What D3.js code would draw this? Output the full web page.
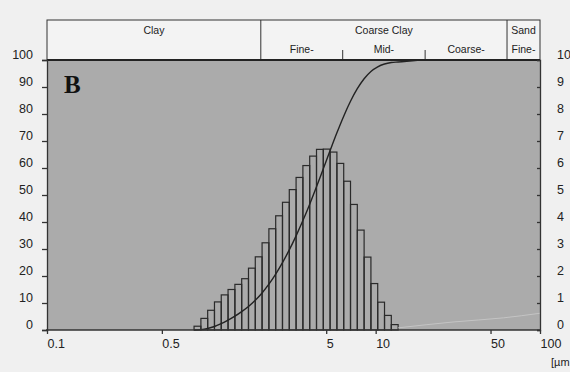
<!DOCTYPE html>
<html>
<head>
<meta charset="utf-8">
<script src="https://cdn.jsdelivr.net/npm/d3@7"></script>
<style>
  body { margin: 0; background: #f0f0f0; }
  svg { display: block; }
</style>
</head>
<body>
<svg></svg>
<script>
// bin edges (µm) and percent per bin
const binEdges = [0.785, 0.864, 0.950, 1.045, 1.149, 1.264, 1.391, 1.530, 1.683, 1.851,
  2.036, 2.240, 2.464, 2.710, 2.981, 3.279, 3.607, 3.968, 4.365, 4.801,
  5.281, 5.809, 6.390, 7.029, 7.732, 8.505, 9.356, 10.29, 11.32, 12.45, 13.70];
const binPercent = [0.14, 0.43, 0.73, 1.04, 1.30, 1.50, 1.69, 1.90, 2.29, 2.71,
  3.23, 3.75, 4.23, 4.73, 5.20, 5.65, 6.09, 6.44, 6.69, 6.70,
  6.59, 6.17, 5.51, 4.65, 3.70, 2.70, 1.72, 1.03, 0.54, 0.20];
// faint trailing line (right axis units)
const tailSize = [13.7, 30, 60, 100];
const tailValue = [0.08, 0.3, 0.45, 0.62];

const xTicks = [0.1, 0.5, 5, 10, 50, 100];
const leftTicks = [0, 10, 20, 30, 40, 50, 60, 70, 80, 90, 100];
const rightTicks = [0, 1, 2, 3, 4, 5, 6, 7, 8, 9, 10];

// size classes for the header band
const classBounds = [0.1, 2, 63, 100];
const classNames = ["Clay", "Coarse Clay", "Sand"];
const subBounds = [2, 6.3, 20, 63, 100];
const subNames = ["Fine-", "Mid-", "Coarse-", "Fine-"];

const svgWidth = 570, svgHeight = 372;
const plotLeft = 47, plotRight = 540, plotTop = 60, plotBottom = 330, headTop = 20;
const sans = "'Liberation Sans', Arial, sans-serif";

const svg = d3.select("svg").attr("width", svgWidth).attr("height", svgHeight);

const x = d3.scaleLog().domain([0.1, 100]).range([plotLeft, plotRight]);
const yL = d3.scaleLinear().domain([0, 100]).range([plotBottom, plotTop]);
const yR = d3.scaleLinear().domain([0, 10]).range([plotBottom, plotTop]);

// plot background
svg.append("rect")
    .attr("x", plotLeft).attr("y", plotTop)
    .attr("width", plotRight - plotLeft).attr("height", plotBottom - plotTop)
    .attr("fill", "#ababab");

// header box
svg.append("rect")
    .attr("x", plotLeft).attr("y", headTop)
    .attr("width", plotRight - plotLeft).attr("height", plotTop - headTop)
    .attr("fill", "#f3f3f3").attr("stroke", "#333").attr("stroke-width", 1);

classBounds.slice(1, -1).forEach(function(b) {
  svg.append("line")
      .attr("x1", x(b)).attr("x2", x(b))
      .attr("y1", headTop).attr("y2", plotTop)
      .attr("stroke", "#333");
});
[6.3, 20].forEach(function(b) {
  svg.append("line")
      .attr("x1", x(b)).attr("x2", x(b))
      .attr("y1", 50).attr("y2", plotTop)
      .attr("stroke", "#333");
});
classNames.forEach(function(n, i) {
  svg.append("text")
      .attr("x", (x(classBounds[i]) + x(classBounds[i + 1])) / 2)
      .attr("y", 34)
      .attr("text-anchor", "middle")
      .attr("font-family", sans)
      .attr("font-size", 10.5)
      .attr("fill", "#222")
      .text(n);
});
subNames.forEach(function(n, i) {
  svg.append("text")
      .attr("x", (x(subBounds[i]) + x(subBounds[i + 1])) / 2)
      .attr("y", 53)
      .attr("text-anchor", "middle")
      .attr("font-family", sans)
      .attr("font-size", 10.5)
      .attr("fill", "#222")
      .text(n);
});

// histogram bars
const bins = binPercent.map(function(v, i) {
  return { x0: binEdges[i], x1: binEdges[i + 1], v: v };
});
svg.append("g").selectAll("rect")
    .data(bins)
    .enter()
    .append("rect")
    .attr("x", d => x(d.x0))
    .attr("y", d => yR(d.v))
    .attr("width", d => x(d.x1) - x(d.x0))
    .attr("height", d => yR(0) - yR(d.v))
    .attr("fill", "none")
    .attr("stroke", "#2a2a2a")
    .attr("stroke-width", 1.2);

// faint tail
svg.append("path")
    .datum(tailSize.map((s, i) => [s, tailValue[i]]))
    .attr("fill", "none")
    .attr("stroke", "#c4c4c4")
    .attr("stroke-width", 1)
    .attr("d", d3.line().x(d => x(d[0])).y(d => yR(d[1])).curve(d3.curveMonotoneX));

// cumulative curve
let run = 0;
const cum = [[binEdges[0], 0]];
binPercent.forEach(function(v, i) {
  run += v;
  cum.push([binEdges[i + 1], Math.min(100, run)]);
});
cum.push([20, 100], [55, 100]);
svg.append("path")
    .datum(cum)
    .attr("fill", "none")
    .attr("stroke", "#222")
    .attr("stroke-width", 1.4)
    .attr("d", d3.line().x(d => x(d[0])).y(d => yL(d[1])).curve(d3.curveMonotoneX));

// thick top edge of the plot
svg.append("line")
    .attr("x1", plotLeft).attr("x2", plotRight)
    .attr("y1", plotTop).attr("y2", plotTop)
    .attr("stroke", "#222").attr("stroke-width", 2);

// left axis
const gL = svg.append("g")
    .attr("transform", "translate(" + plotLeft + ",0)")
    .call(d3.axisLeft(yL).tickValues(leftTicks).tickSize(5).tickPadding(9));
// right axis
const gR = svg.append("g")
    .attr("transform", "translate(" + plotRight + ",0)")
    .call(d3.axisRight(yR).tickValues(rightTicks).tickSize(-3).tickPadding(17));
// bottom axis
const gB = svg.append("g")
    .attr("transform", "translate(0," + plotBottom + ")")
    .call(d3.axisBottom(x).tickValues(xTicks).tickFormat(d => d).tickSize(4).tickPadding(5));
gB.selectAll(".tick text").attr("text-anchor", "start").attr("dx", "0");

[gL, gR, gB].forEach(function(g) {
  g.select(".domain").attr("stroke", "#333").attr("stroke-width", 1.3);
  g.selectAll(".tick line").attr("stroke", "#333").attr("stroke-width", 1.3);
  g.selectAll(".tick text").attr("font-size", 12.5)
      .attr("font-family", sans)
      .attr("fill", "#222");
});
gL.selectAll(".tick text").attr("y", -6);
gR.selectAll(".tick text").attr("y", -6);
gB.select(".domain").attr("d", "M" + (plotLeft - 1) + ",0H" + (plotRight + 1));

svg.append("text")
    .attr("x", 551).attr("y", 366)
    .attr("font-family", sans)
    .attr("font-size", 11)
    .attr("fill", "#222")
    .text("[µm");

// panel letter
svg.append("text")
    .attr("x", 64).attr("y", 93)
    .attr("font-family", "'Liberation Serif', 'DejaVu Serif', serif")
    .attr("font-weight", "bold")
    .attr("font-size", 25)
    .attr("fill", "#111")
    .text("B");
</script>
</body>
</html>
